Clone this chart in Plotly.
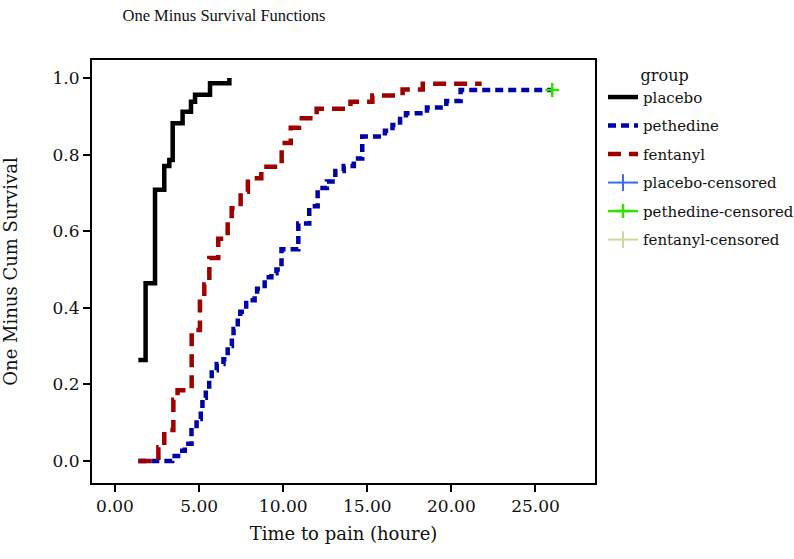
import plotly.graph_objects as go

# ---- data ----
placebo_t = [1.39, 1.82, 2.38, 2.93, 3.23, 3.43, 4.02, 4.52, 4.76, 5.65, 6.80]
placebo_v = [0.264, 0.464, 0.708, 0.770, 0.786, 0.882, 0.912, 0.938, 0.956, 0.986, 1.000]

pethedine_t = [1.39, 3.40, 3.75, 4.15, 4.55, 4.85, 5.10, 5.20, 5.40, 5.60, 5.75, 6.05, 6.45,
               6.70, 6.95, 7.05, 7.30, 7.45, 7.80, 8.30, 8.45, 8.90, 9.30, 9.60, 9.90, 10.90,
               11.55, 12.05, 12.60, 13.10, 13.60, 14.20, 14.70, 16.05, 16.50, 16.95, 17.30,
               18.55, 19.70, 20.55, 26.00]
pethedine_v = [0.0, 0.013, 0.027, 0.045, 0.080, 0.110, 0.130, 0.165, 0.185, 0.210, 0.237, 0.253,
               0.266, 0.300, 0.320, 0.345, 0.373, 0.390, 0.420, 0.433, 0.450, 0.480, 0.490, 0.500,
               0.553, 0.620, 0.665, 0.713, 0.730, 0.757, 0.770, 0.790, 0.847, 0.862, 0.877, 0.893,
               0.908, 0.923, 0.940, 0.969, 0.969]

fentanyl_t = [1.39, 2.58, 2.93, 3.47, 3.72, 4.56, 5.05, 5.31, 5.61, 6.14, 6.70, 6.94, 7.47, 7.90,
              8.70, 9.91, 10.45, 10.94, 11.99, 14.00, 15.30, 17.10, 18.30, 21.80]
fentanyl_v = [0.0, 0.036, 0.081, 0.160, 0.185, 0.342, 0.430, 0.461, 0.530, 0.580, 0.630, 0.660,
              0.703, 0.738, 0.768, 0.830, 0.870, 0.895, 0.920, 0.938, 0.954, 0.970, 0.985, 0.985]

pethedine_cens_t = [26.00]
pethedine_cens_v = [0.969]

x_ticks = [0, 5, 10, 15, 20, 25]
y_ticks = [0.0, 0.2, 0.4, 0.6, 0.8, 1.0]

SERIF = "DejaVu Serif"
TITLE_FONT = "Liberation Serif"
W, H = 794, 559

fig = go.Figure()
fig.add_trace(go.Scatter(x=placebo_t, y=placebo_v, mode="lines", line_shape="hv",
                         name="placebo", legendgroup="a",
                         line=dict(color="#000000", width=4.5)))
fig.add_trace(go.Scatter(x=pethedine_t, y=pethedine_v, mode="lines", line_shape="hv",
                         name="pethedine", legendgroup="b",
                         line=dict(color="#0000a8", width=4.5, dash="8px,5px")))
fig.add_trace(go.Scatter(x=fentanyl_t, y=fentanyl_v, mode="lines", line_shape="hv",
                         name="fentanyl", legendgroup="c",
                         line=dict(color="#9e0000", width=4.5, dash="13px,8px")))
fig.add_trace(go.Scatter(x=[None], y=[None], mode="lines+markers", name="placebo-censored",
                         legendgroup="d", line=dict(color="#3a6af0", width=2),
                         marker=dict(symbol="line-ns", size=12, line=dict(color="#3a6af0", width=2))))
fig.add_trace(go.Scatter(x=pethedine_cens_t, y=pethedine_cens_v, mode="lines+markers",
                         name="pethedine-censored", legendgroup="e",
                         line=dict(color="#33e000", width=2.5),
                         marker=dict(symbol="cross-thin", size=10, line=dict(color="#33e000", width=2.5))))
fig.add_trace(go.Scatter(x=[None], y=[None], mode="lines+markers", name="fentanyl-censored",
                         legendgroup="f", line=dict(color="#d2d69a", width=2),
                         marker=dict(symbol="line-ns", size=12, line=dict(color="#d2d69a", width=2))))

fig.update_layout(
    width=W, height=H,
    margin=dict(l=92, r=199, t=60, b=76, autoexpand=False),
    paper_bgcolor="white", plot_bgcolor="white",
    font=dict(family=SERIF, size=17, color="#111111"),
    title=dict(text="One Minus Survival Functions", x=224/W, xanchor="center",
               y=1 - 15/H, yanchor="middle", yref="container", xref="container",
               font=dict(family=TITLE_FONT, size=16.5, color="#111111")),
    legend=dict(title=dict(text="\u00a0" * 7 + "group", font=dict(family=SERIF, size=16)),
                x=(603 - 92) / 503, xanchor="left", y=1.0, yanchor="top",
                font=dict(family=SERIF, size=15),
                bgcolor="rgba(0,0,0,0)", itemwidth=30, tracegroupgap=6,
                traceorder="grouped"),
    showlegend=True,
)
fig.update_xaxes(range=[-1.367, 28.54], tickvals=x_ticks, tickformat=".2f",
                 ticks="outside", ticklen=7, tickwidth=2, tickcolor="black",
                 showline=True, linecolor="black", linewidth=2, mirror=True,
                 showgrid=False, zeroline=False, tickfont=dict(size=17), automargin=False,
                 title=dict(text="Time to pain (houre)", standoff=12, font=dict(size=18)))
fig.update_yaxes(range=[-0.0574, 1.047], tickvals=y_ticks, tickformat=".1f",
                 ticks="outside", ticklen=7, tickwidth=2, tickcolor="black",
                 showline=True, linecolor="black", linewidth=2, mirror=True,
                 showgrid=False, zeroline=False, tickfont=dict(size=17), automargin=False,
                 title=dict(text="One Minus Cum Survival", standoff=30, font=dict(size=18)))

# the default page has an 8px body margin; remove it so the figure sits at the window origin
fig.write_html("out.html", config={"displayModeBar": False},
               post_script="document.body.style.margin='0px';")
